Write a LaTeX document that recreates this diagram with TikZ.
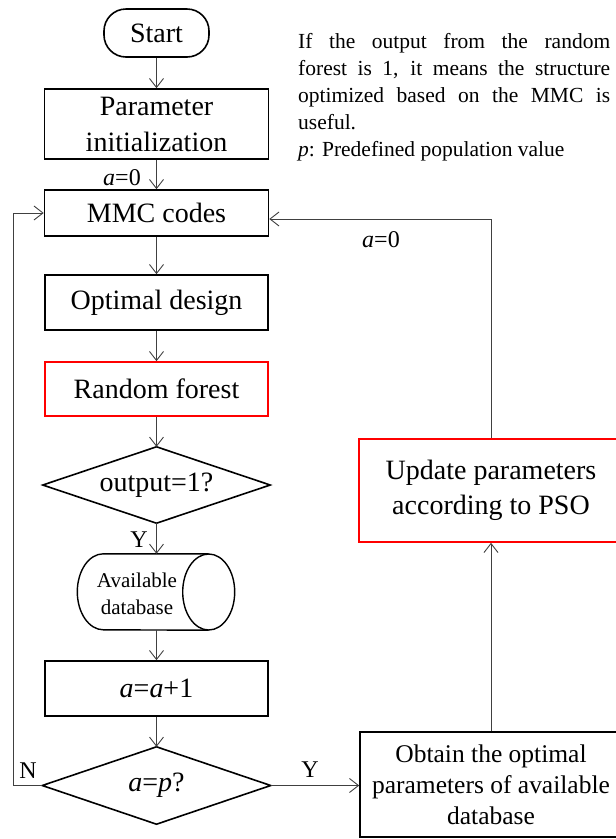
\documentclass[tikz,border=0pt]{standalone}
\usepackage{fontspec}
\setmainfont{Liberation Serif}
\usetikzlibrary{arrows.meta,shapes.geometric,calc}
\begin{document}
\begin{tikzpicture}[x=1pt,y=-1pt,
  box/.style={draw=black,line width=1.6pt,rectangle,inner sep=0pt,align=center,font=\fontsize{28}{36}\selectfont},
  redbox/.style={box,draw=red},
  dec/.style={rectangle,inner sep=0pt,align=center,font=\fontsize{28}{36}\selectfont},
  decline/.style={draw=black,line width=1.6pt,line join=miter},
  conn/.style={draw=black!75,line width=0.9pt,-{Straight Barb[length=9pt,width=14pt]}},
  lbl/.style={font=\fontsize{24}{28}\selectfont,inner sep=0pt},
  cylline/.style={draw=black,line width=1.4pt}
]
\useasboundingbox (0,0) rectangle (616,839);
\clip (0,0) rectangle (616,839);
\node[box,rounded corners=22pt,minimum width=105pt,minimum height=48pt] (start) at (156.5,33) {Start};
\node[box,minimum width=224pt,minimum height=70pt] (param) at (156.5,124) {Parameter\\initialization};
\node[box,minimum width=224pt,minimum height=46pt] (mmc) at (156.5,213) {MMC codes};
\node[box,minimum width=223pt,minimum height=55pt] (opt) at (156.5,302.5) {Optimal design};
\node[redbox,minimum width=223pt,minimum height=54pt] (rf) at (156.5,389) {Random forest};
\node[dec,minimum width=227pt,minimum height=76pt] (d1) at (156.5,485) {output=1?};
\draw[decline] (d1.north) -- (d1.east) -- (d1.south) -- (d1.west) -- cycle;
\node[minimum width=157pt,minimum height=76pt,inner sep=0pt] (cyl) at (156,592) {};
\draw[cylline] ([xshift=-26pt]cyl.north east) -- ([xshift=26pt]cyl.north west)
   arc[start angle=90,end angle=270,x radius=26pt,y radius=38pt]
   -- ([xshift=-26pt]cyl.south east);
\draw[cylline] ([xshift=-26pt]cyl.east) ellipse [x radius=26pt,y radius=38pt];
\node[align=center,inner sep=0pt,font=\fontsize{21}{27}\selectfont] (cyltext) at (137,593.5) {Available\\database};
\node[box,minimum width=223pt,minimum height=55pt] (inc) at (156.5,688.5) {\textit{a}=\textit{a}+1};
\node[dec,minimum width=228pt,minimum height=77pt] (d2) at (156.5,785.5) {\textit{a}=\textit{p}?};
\draw[decline] (d2.north) -- (d2.east) -- (d2.south) -- (d2.west) -- cycle;
\node[box,minimum width=262pt,minimum height=105pt,font=\fontsize{25.5}{31}\selectfont] (obt) at (491,784.5) {Obtain the optimal\\parameters of available\\database};
\node[redbox,minimum width=264pt,minimum height=103pt,font=\fontsize{28}{35}\selectfont] (upd) at (491,490.5) {Update parameters\\according to PSO};
\node[anchor=north west,text width=312pt,align=justify,inner sep=0pt,font=\fontsize{21.5}{27}\selectfont] (note) at (298,33) {If the output from the random\linebreak forest is 1, it means the structure\linebreak optimized based on the MMC is\linebreak useful.\\\textit{p}: Predefined population value};
% connectors
\draw[conn] (start) -- (param);
\draw[conn] (param) -- (mmc);
\draw[conn] (mmc) -- (opt);
\draw[conn] (opt) -- (rf);
\draw[conn] (rf) -- (d1.north);
\draw[conn] (d1.south) -- (d1.south |- cyl.north);
\draw[conn] (inc.north |- cyl.south) -- (inc.north);
\draw[conn] (inc) -- (d2.north);
\draw[conn] (d2.east) -- (d2.east -| obt.west);
\coordinate (lp) at (13,785.5);
\draw[conn] (d2.west) -- (lp) |- (mmc.west);
\draw[conn] (obt.north) -- (upd.south);
\coordinate (rt) at (491,219);
\draw[conn] (upd.north) -- (rt) -- (mmc.east |- rt);
% labels
\node[lbl] (la0) at (122,178) {\textit{a}=0};
\node[lbl] (lr0) at (381,240) {\textit{a}=0};
\node[lbl] (ly1) at (139,540) {Y};
\node[lbl] (ln) at (28,771) {N};
\node[lbl] (ly2) at (310,770) {Y};
\end{tikzpicture}
\end{document}
